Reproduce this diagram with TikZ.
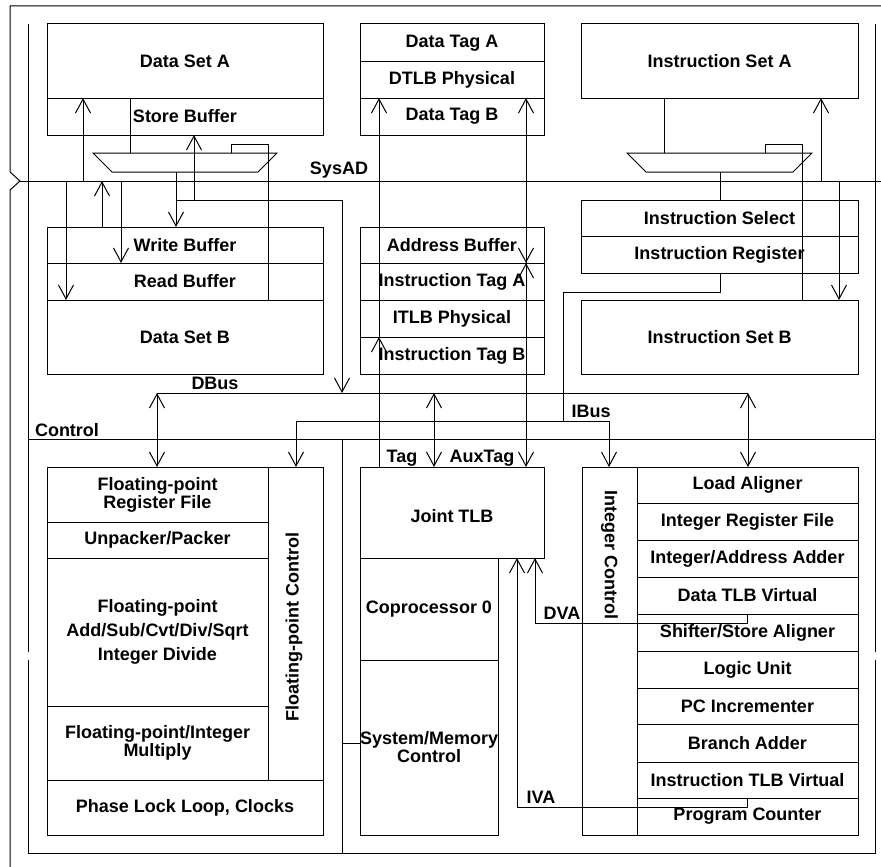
\documentclass[tikz,border=0pt]{standalone}
\usepackage{fontspec}
\setmainfont{Liberation Sans}
\usetikzlibrary{arrows.meta}
\newcommand\blk[7][]{\node[box,#1,minimum width={(#5-#3)*1pt},minimum height={(#6-#4)*1pt}] (#2) at (#3,#4) {#7};}
\begin{document}
\begin{tikzpicture}[x=1pt,y=-1pt,line width=1pt,line join=miter,
  box/.style={draw,inner sep=0pt,outer sep=0pt,anchor=north west,font=\bfseries\fontsize{18}{18}\selectfont,align=center},
  lbl/.style={font=\bfseries\fontsize{18}{18}\selectfont,inner sep=0pt,outer sep=0pt},
  arr/.style={-{Straight Barb[length=14pt,width=15pt]}},
  barr/.style={{Straight Barb[length=14pt,width=15pt]}-{Straight Barb[length=14pt,width=15pt]}},
  wire/.style={draw=black}]
\useasboundingbox (0,0) rectangle (881,867);
% ---------- frames ----------
\draw (10,867) -- (10,190) -- (20,181) -- (10,172) -- (10,6) -- (881,6);
\coordinate (sysL) at (20,181);
\coordinate (sysR) at (881,181);
\draw (sysL) -- (sysR);
\draw (28,24) -- (28,652);
\draw (28,660) -- (28,853) -- (875,853) -- (875,660);
\draw (875,652) -- (875,24);
\coordinate (ctlL) at (28,439);
\coordinate (ctlR) at (875,439);
\draw (ctlL) -- (ctlR);
% ---------- top blocks ----------
\blk{dsa}{47}{24}{323}{98}{Data Set A}
\blk{sb}{47}{98}{323}{135}{Store Buffer}
\blk{dta}{360}{24}{544}{62}{Data Tag A}
\blk{dtlb}{360}{62}{544}{98}{DTLB Physical}
\blk{dtb}{360}{98}{544}{135}{Data Tag B}
\blk{isa}{581}{24}{858}{98}{Instruction Set A}
\blk{wb}{47}{227}{323}{263}{Write Buffer}
\blk{rb}{47}{263}{323}{300}{Read Buffer}
\blk{dsb}{47}{300}{323}{374}{Data Set B}
\blk{ab}{360}{227}{544}{263}{Address Buffer}
\blk{ita}{360}{263}{544}{300}{Instruction Tag A}
\blk{itlb}{360}{300}{544}{337}{ITLB Physical}
\blk{itb}{360}{337}{544}{374}{Instruction Tag B}
\blk{isel}{581}{200}{858}{236}{Instruction Select}
\blk{ireg}{581}{236}{858}{273}{Instruction Register}
\blk{isb}{581}{300}{858}{374}{Instruction Set B}
% ---------- bottom blocks ----------
\blk{fprf}{47}{467}{268}{522}{Floating-point\\Register File}
\blk{unp}{47}{522}{268}{558}{Unpacker/Packer}
\blk[font=\bfseries\fontsize{18}{24}\selectfont]{fpadd}{47}{558}{268}{706}{Floating-point\\Add/Sub/Cvt/Div/Sqrt\\Integer Divide}
\blk{fpmul}{47}{706}{268}{780}{Floating-point/Integer\\Multiply}
\blk{fpc}{268}{467}{323}{780}{}
\node[lbl,rotate=90] (fpcl) at (294,627) {Floating-point Control};
\blk{pll}{47}{780}{323}{835}{Phase Lock Loop, Clocks}
\blk{jtlb}{360}{467}{544}{558}{}
\node[lbl] (jtlbl) at (452,516) {Joint TLB};
\blk{cp0}{360}{558}{498}{660}{Coprocessor 0}
\blk{smc}{360}{660}{498}{835}{System/Memory\\Control}
\blk{ic}{582}{467}{637}{835}{}
\node[lbl,rotate=-90] (icl) at (609.5,555) {Integer Control};
\blk{la}{637}{467}{858}{503}{Load Aligner}
\blk{irf}{637}{503}{858}{540}{Integer Register File}
\blk{iaa}{637}{540}{858}{577}{Integer/Address Adder}
\blk{dtv}{637}{577}{858}{614}{Data TLB Virtual}
\blk{ssa}{637}{614}{858}{651}{Shifter/Store Aligner}
\blk{lu}{637}{651}{858}{688}{Logic Unit}
\blk{pci}{637}{688}{858}{724}{PC Incrementer}
\blk{ba}{637}{724}{858}{762}{Branch Adder}
\blk{itv}{637}{762}{858}{798}{Instruction TLB Virtual}
\blk{pc}{637}{798}{858}{835}{Program Counter}
% ---------- control bus ----------
\draw (342,0 |- ctlL) -- (342,853);
\draw (342,743) -- (342,743 -| smc.west);
% ---------- data cache side ----------
\draw[arr] (83,181) -- (83,0 |- dsa.south);
\draw[arr] (66,181) -- (66,0 |- dsb.north);
\draw[arr] (102,0 |- wb.north) -- (102,181);
\draw[arr] (121,181) -- (121,0 |- rb.north);
\coordinate (muxLtop) at (130,153);
\draw (130,0 |- dsa.south) -- (muxLtop);
\draw (93,153) -- (277,153) -- (258,172) -- (112,172) -- cycle;
\draw (231,153) -- (231,144) -- (268,144) -- (268,0 |- rb.south);
\draw[arr] (176,172) -- (176,0 |- wb.north);
\coordinate (dj) at (342,200);
\draw (176,200) -- (dj);
\draw[arr] (194,200) -- (194,0 |- sb.south);
\coordinate (dbL) at (157,393);
\coordinate (dbR) at (748,393);
\draw[arr] (dj) -- (342,393);
% ---------- tags ----------
\draw[arr] (379,0 |- jtlb.north) -- (379,0 |- itb.north);
\draw[arr] (379,0 |- itb.north) -- (379,0 |- dtb.north);
\draw[arr] (526,263) -- (526,0 |- dtb.north);
\draw[arr] (526,290) -- (526,263);
\draw[arr] (526,240) -- (526,263);
\draw[arr] (526,263) -- (526,0 |- jtlb.north);
\draw[barr] (434,393) -- (434,0 |- jtlb.north);
% ---------- DBus ----------
\draw (dbL) -- (dbR);
\draw[barr] (dbL) -- (157,0 |- fprf.north);
\draw[barr] (dbR) -- (748,0 |- la.north);
% ---------- IBus ----------
\draw (720,0 |- ireg.south) -- (720,292) -- (563,292) -- (563,421);
\coordinate (ibL) at (296,421);
\coordinate (ibR) at (609,421);
\draw (ibL) -- (ibR);
\draw[arr] (ibL) -- (296,0 |- fpc.north);
\draw[arr] (ibR) -- (609,0 |- ic.north);
% ---------- instruction cache side ----------
\draw (627,153) -- (812,153) -- (793,172) -- (646,172) -- cycle;
\draw (664,0 |- isa.south) -- (664,153);
\draw (765,153) -- (765,144) -- (802,144) -- (802,0 |- isb.north);
\draw (720,172) -- (720,0 |- isel.north);
\draw[arr] (821,181) -- (821,0 |- isa.south);
\draw[arr] (839,181) -- (839,0 |- isb.north);
% ---------- DVA / IVA ----------
\draw[arr] (747,0 |- dtv.south) -- (747,623) -- (535,623) -- (535,0 |- jtlb.south);
\draw[arr] (747,0 |- itv.south) -- (747,807) -- (517,807) -- (517,0 |- jtlb.south);
% ---------- labels ----------
\node[lbl] (lsys) at (339,170) {SysAD};
\node[lbl] (ldbus) at (215,383) {DBus};
\node[lbl] (libus) at (591,411) {IBus};
\node[lbl] (lctl) at (67,430) {Control};
\node[lbl] (ltag) at (402,458) {Tag};
\node[lbl] (laux) at (482,458) {AuxTag};
\node[lbl] (ldva) at (562,613) {DVA};
\node[lbl] (liva) at (541,797) {IVA};
\end{tikzpicture}
\end{document}
